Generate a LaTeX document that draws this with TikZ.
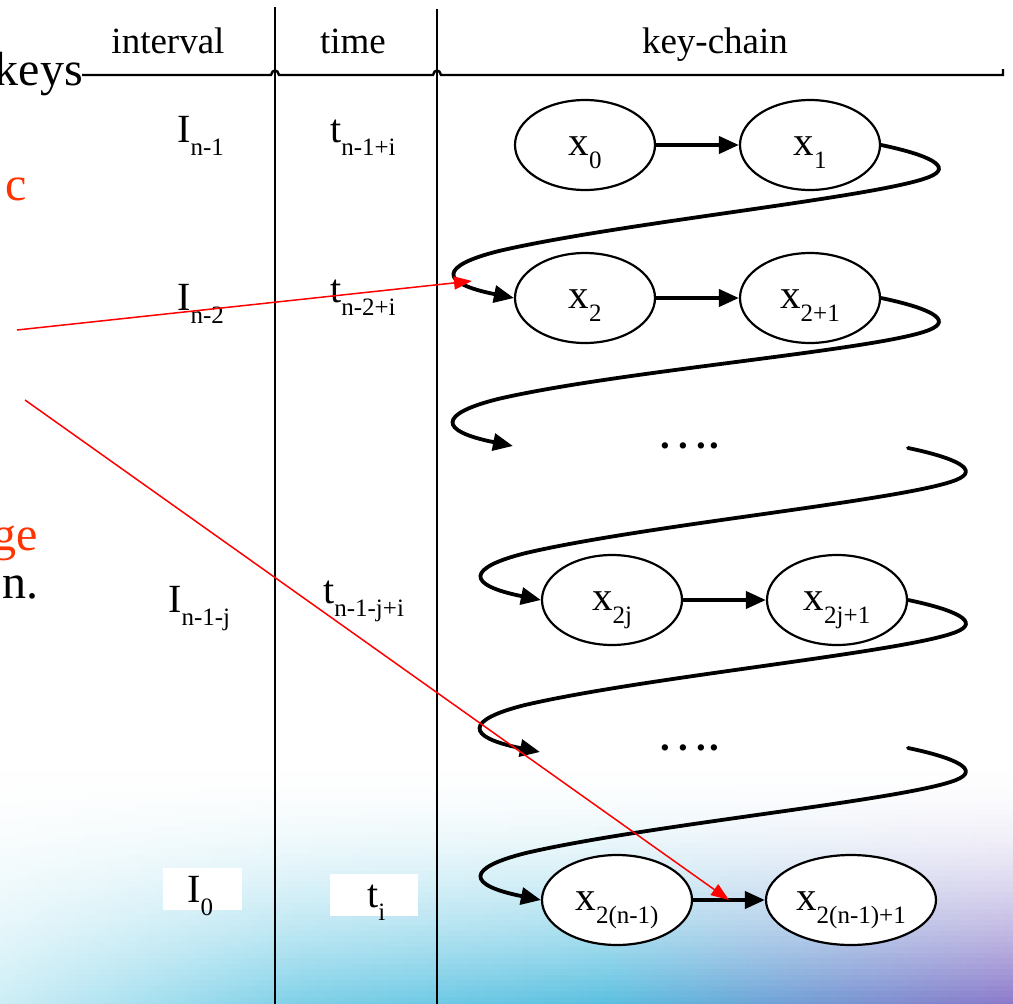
\documentclass[tikz,border=0pt]{standalone}
\usepackage{fontspec}
\setmainfont{Liberation Serif}
\usetikzlibrary{arrows.meta,shapes.geometric,calc}

\definecolor{slidered}{RGB}{255,51,0}
\definecolor{bgzero}{RGB}{205,238,246}
\definecolor{bgone}{RGB}{125,208,232}
\definecolor{bgtwo}{RGB}{90,192,224}
\definecolor{bgthree}{RGB}{140,120,202}

% colour band of the slide backdrop, left to right
\pgfdeclarehorizontalshading{slideband}{100bp}{color(0bp)=(bgzero); color(25bp)=(bgzero);
  color(40bp)=(bgone); color(55bp)=(bgtwo); color(75bp)=(bgthree); color(100bp)=(bgthree)}

% lowered subscript in the slide style
\newcommand\sbs[1]{\raisebox{-13pt}{\fontsize{25}{25}\selectfont #1}}

% one turn of the key chain: leaves #1 to the right, swings back left and enters #2
\newcommand\chainloop[2]{%
  \draw[keyloop] (#1)
    .. controls ($(#1)+(48,10)$) and ($(#1)+(73,22)$) .. ($(#1)+(48,32)$)
    .. controls ($(#1)+(-2,52)$) and ($(#2)+(105,-75)$) .. ($(#2)+(-15,-47)$)
    .. controls ($(#2)+(-75,-32)$) and ($(#2)+(-75,-15)$) .. (#2);}

\tikzset{
  rowlab/.style={inner sep=0pt, anchor=base west, font=\fontsize{40}{40}\selectfont},
  colhead/.style={inner sep=0pt, anchor=base, font=\fontsize{37}{37}\selectfont},
  slidetext/.style={inner sep=0pt, anchor=base east, font=\fontsize{48}{48}\selectfont},
  keynode/.style={ellipse, draw, line width=2.2pt, fill=white,
    minimum width=140pt, minimum height=90pt, inner sep=0pt,
    text height=25pt, text depth=5pt, font=\fontsize{41}{41}\selectfont},
  keyarrow/.style={line width=4pt, -{Triangle[length=20pt,width=17pt]}},
  keyloop/.style={line width=3.8pt, line cap=round, -{Triangle[length=20pt,width=17pt]}},
  tablerule/.style={line width=2.4pt},
  redptr/.style={red, line width=1.5pt, -{Triangle[length=18pt,width=13pt]}},
  gapdots/.style={inner sep=0pt, anchor=base west, font=\fontsize{39}{39}\selectfont\bfseries},
}

\begin{document}
\begin{tikzpicture}[x=1pt,y=-1pt]
\useasboundingbox (0,0) rectangle (1013,1004);

% slide backdrop: coloured band at the bottom, washed out upwards
\shade[shading=slideband] (0,740) rectangle (1013,1004);
\fill[white] (0,740) rectangle (1013,760);
\foreach \k in {0,...,43} {
  \pgfmathsetmacro\op{1-(\k/44)^1.8}
  \fill[white, opacity=\op] (0,760+5.5*\k) rectangle (1013,765.5+5.5*\k);
}

% fragments of the slide text on the left
\node[slidetext] (wkeys) at (83,85) {keys};
\node[slidetext, text=slidered] (wc) at (27,200) {c};
\node[slidetext, text=slidered] (wge) at (38,550) {ge};
\node[slidetext] (wn) at (39,598) {n.};

% table frame
\draw[tablerule] (82,75) -- (271,75) .. controls (272,69) and (278,69) .. (279,75)
  -- (433,75) .. controls (434,69) and (440,69) .. (441,75) -- (1003,75) -- (1003,69);
\draw[tablerule] (275,7) -- (275,1004);
\draw[tablerule] (437,9) -- (437,1004);

% column heads
\node[colhead] (hint) at (168,53) {interval};
\node[colhead] (htime) at (353,53) {time};
\node[colhead] (hkey) at (715,53) {key-chain};

% interval and time labels
\node[rowlab] (i1) at (177,142) {I\sbs{n-1}};
\node[rowlab] (t1) at (330,142) {t\sbs{n-1+i}};
\node[rowlab] (i2) at (177,310) {I\sbs{n-2}};
\node[rowlab] (t2) at (330,302) {t\sbs{n-2+i}};
\node[rowlab] (ij) at (168,612) {I\sbs{n-1-j}};
\node[rowlab] (tj) at (323,603) {t\sbs{n-1-j+i}};
\fill[white] (163,868) rectangle (242,910);
\fill[white] (330,874) rectangle (418,916);
\node[rowlab] (i0) at (187,902) {I\sbs{0}};
\node[rowlab] (t0) at (367,907) {t\sbs{i}};

% key-chain elements
\node[keynode] (x0) at (585,145) {x\sbs{0}};
\node[keynode] (x1) at (810,145) {x\sbs{1}};
\node[keynode] (x2) at (585,298) {x\sbs{2}};
\node[keynode] (x3) at (810,298) {x\sbs{2+1}};
\node[keynode] (x2j) at (612,600) {x\sbs{2j}};
\node[keynode] (x2j1) at (837,600) {x\sbs{2j+1}};
\node[keynode, minimum width=150pt] (xl) at (617,900) {x\sbs{2(n-1)}};
\node[keynode, minimum width=170pt] (xl1) at (851,900) {x\sbs{2(n-1)+1}};

% elided parts of the chain
\node[gapdots] (gap1) at (660,448) {.\kern9pt.\kern8pt.\kern3pt.};
\fill[white] (639,735) rectangle (740,756);
\node[gapdots] (gap2) at (660,750) {.\kern9pt.\kern8pt.\kern3pt.};
\coordinate (gapin1) at (513,446);
\coordinate (gapout1) at (908,448);
\coordinate (gapin2) at (540,752);
\coordinate (gapout2) at (908,748);

% links inside a row
\draw[keyarrow] (x0) -- (x1);
\draw[keyarrow] (x2) -- (x3);
\draw[keyarrow] (x2j) -- (x2j1);
\draw[keyarrow] (xl) -- (xl1);

% turns between rows
\chainloop{x1.east}{x2.west}
\chainloop{x3.east}{gapin1}
\chainloop{gapout1}{x2j.west}
\chainloop{x2j1.east}{gapin2}
\chainloop{gapout2}{xl.west}

% red pointers
\coordinate (ps1) at (17,330);
\coordinate (pe1) at (472,281);
\coordinate (ps2) at (25,400);
\coordinate (pe2) at ($(xl.east)!0.5!(xl1.west)$);
\draw[redptr] (ps1) -- (pe1);
\draw[redptr] (ps2) -- (pe2);
\end{tikzpicture}
\end{document}
